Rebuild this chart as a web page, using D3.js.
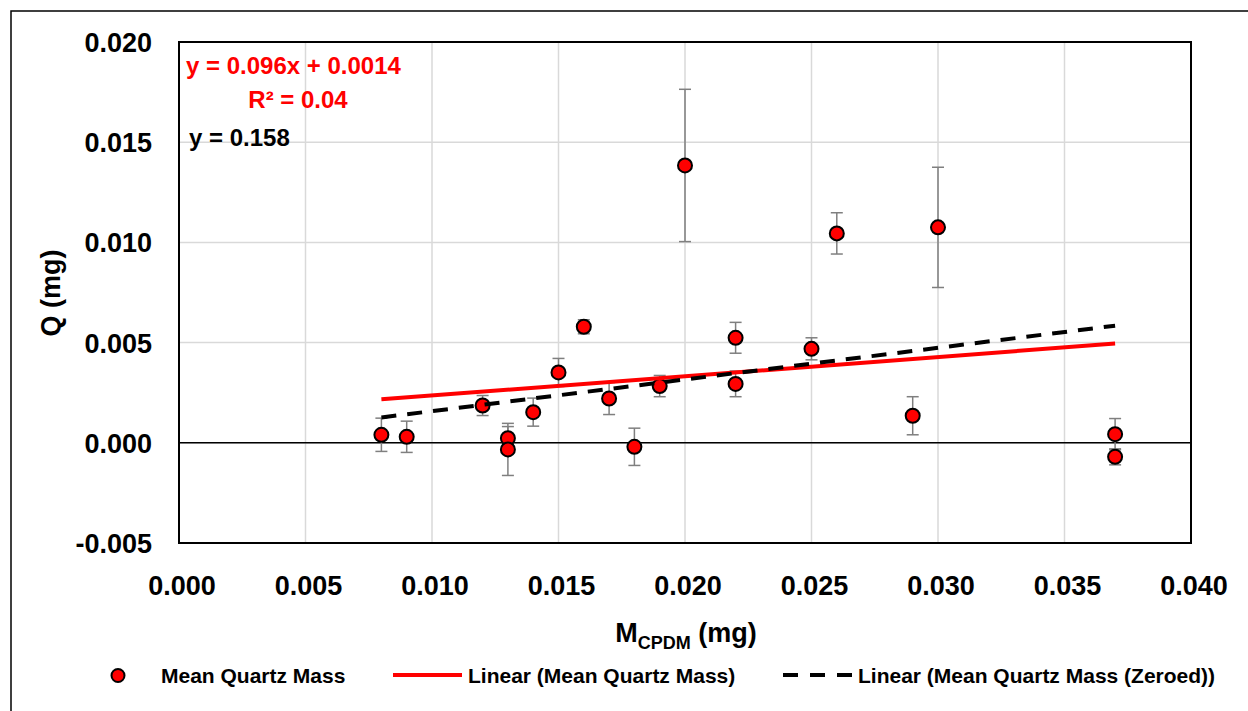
<html>
<head>
<meta charset="utf-8">
<script src="https://d3js.org/d3.v7.min.js"></script>
<style>
  body { margin: 0; padding: 0; background: #fff; }
  svg { display: block; font-family: "Liberation Sans", Arial, sans-serif; font-weight: bold; }
</style>
</head>
<body>
<script>
// data
var massX  = [0.008, 0.009, 0.012, 0.013, 0.013, 0.014, 0.015, 0.016, 0.017, 0.018,
              0.019, 0.020, 0.022, 0.022, 0.025, 0.026, 0.029, 0.030, 0.037, 0.037];
var quartzQ = [0.0004, 0.0003, 0.00186, 0.00023, -0.00033, 0.00153, 0.00351, 0.00579, 0.00221, -0.0002,
               0.00283, 0.01384, 0.00524, 0.00294, 0.00469, 0.01045, 0.00135, 0.01075, 0.00043, -0.0007];
var errQ   = [0.00083, 0.00078, 0.0005, 0.00058, 0.0013, 0.0007, 0.0007, 0.00035, 0.0008, 0.00093,
              0.00053, 0.0038, 0.00077, 0.00064, 0.00055, 0.00103, 0.00095, 0.003, 0.00078, 0.0004];

var fitNames     = ["Linear (Mean Quartz Mass)", "Linear (Mean Quartz Mass (Zeroed))"];
var fitSlope     = [0.096, 0.158];
var fitIntercept = [0.0014, 0];
var fitLabels    = [["y = 0.096x + 0.0014", "R\u00b2 = 0.04"], ["y = 0.158"]];

var xTicks = [0, 0.005, 0.010, 0.015, 0.020, 0.025, 0.030, 0.035, 0.040];
var yTicks = [-0.005, 0, 0.005, 0.010, 0.015, 0.020];

function fmt(d) { return d.toFixed(3); }

function chart() {
  var W = 1248, H = 711;
  var pl = 179, pr = 1191, pt = 42, pb = 543;

  var svg = d3.select("body").append("svg").attr("width", W).attr("height", H);

  // outer chart frame (runs off right / bottom edge)
  svg.append("rect").attr("x", 11).attr("y", 11).attr("width", W + 20).attr("height", H + 20)
    .attr("fill", "none").attr("stroke", "#000").attr("stroke-width", 1.5);

  var x = d3.scaleLinear().domain([0, 0.040]).range([pl, pr]);
  var y = d3.scaleLinear().domain([-0.005, 0.020]).range([pb, pt]);

  // gridlines
  svg.append("g").selectAll("line").data(xTicks).enter().append("line")
    .attr("x1", function(d) { return x(d); }).attr("x2", function(d) { return x(d); })
    .attr("y1", pt).attr("y2", pb)
    .attr("stroke", "#d9d9d9").attr("stroke-width", 1.5);
  svg.append("g").selectAll("line").data(yTicks).enter().append("line")
    .attr("x1", pl).attr("x2", pr)
    .attr("y1", function(d) { return y(d); }).attr("y2", function(d) { return y(d); })
    .attr("stroke", "#d9d9d9").attr("stroke-width", 1.5);

  // zero line
  svg.append("line").attr("x1", pl).attr("x2", pr).attr("y1", y(0)).attr("y2", y(0))
    .attr("stroke", "#000").attr("stroke-width", 1.5);

  // plot border
  svg.append("rect").attr("x", pl).attr("y", pt).attr("width", pr - pl).attr("height", pb - pt)
    .attr("fill", "none").attr("stroke", "#000").attr("stroke-width", 2);

  // tick labels
  svg.append("g").selectAll("text").data(xTicks).enter().append("text")
    .attr("x", function(d) { return x(d) + 3; }).attr("y", 595)
    .attr("text-anchor", "middle").attr("font-size", 27)
    .text(fmt);
  svg.append("g").selectAll("text").data(yTicks).enter().append("text")
    .attr("x", 152).attr("y", function(d) { return y(d) + 10; })
    .attr("text-anchor", "end").attr("font-size", 27)
    .text(fmt);

  // axis titles
  svg.append("text").attr("transform", "translate(60,293) rotate(-90)")
    .attr("text-anchor", "middle").attr("font-size", 27).text("Q (mg)");
  var xt = svg.append("text").attr("x", 686).attr("y", 642).attr("text-anchor", "middle").attr("font-size", 27);
  xt.append("tspan").text("M");
  xt.append("tspan").attr("font-size", 18).attr("dy", 7).text("CPDM");
  xt.append("tspan").attr("dy", -7).text(" (mg)");

  // error bars
  var eb = svg.append("g").attr("stroke", "#7f7f7f").attr("stroke-width", 1.5);
  massX.forEach(function(mx, i) {
    var cx = x(mx), y0 = y(quartzQ[i] - errQ[i]), y1 = y(quartzQ[i] + errQ[i]);
    eb.append("line").attr("x1", cx).attr("x2", cx).attr("y1", y0).attr("y2", y1);
    eb.append("line").attr("x1", cx - 6).attr("x2", cx + 6).attr("y1", y0).attr("y2", y0);
    eb.append("line").attr("x1", cx - 6).attr("x2", cx + 6).attr("y1", y1).attr("y2", y1);
  });

  // markers
  svg.append("g").selectAll("circle").data(massX).enter().append("circle")
    .attr("cx", function(d) { return x(d); })
    .attr("cy", function(d, i) { return y(quartzQ[i]); })
    .attr("r", 7).attr("fill", "#ff0000").attr("stroke", "#000").attr("stroke-width", 2);

  // trend lines
  var xMin = d3.min(massX), xMax = d3.max(massX);
  var fitColor = ["#ff0000", "#000"];
  var fitDash = [null, "15,11"];
  fitSlope.forEach(function(m, k) {
    svg.append("line")
      .attr("x1", x(xMin)).attr("y1", y(m * xMin + fitIntercept[k]))
      .attr("x2", x(xMax)).attr("y2", y(m * xMax + fitIntercept[k]))
      .attr("stroke", fitColor[k]).attr("stroke-width", 4)
      .attr("stroke-dasharray", fitDash[k]);
  });

  // equations
  svg.append("text").attr("x", 186).attr("y", 74).attr("font-size", 24).attr("fill", "#ff0000").text(fitLabels[0][0]);
  svg.append("text").attr("x", 298).attr("y", 108).attr("text-anchor", "middle").attr("font-size", 24).attr("fill", "#ff0000").text(fitLabels[0][1]);
  svg.append("text").attr("x", 189).attr("y", 146).attr("font-size", 24).attr("fill", "#000").text(fitLabels[1][0]);

  // legend
  var lg = svg.append("g").attr("font-size", 21);
  lg.append("circle").attr("cx", 118).attr("cy", 675.5).attr("r", 6.5).attr("fill", "#ff0000").attr("stroke", "#000").attr("stroke-width", 2);
  lg.append("text").attr("x", 161).attr("y", 682.5).text("Mean Quartz Mass");
  lg.append("line").attr("x1", 393).attr("x2", 462).attr("y1", 675).attr("y2", 675)
    .attr("stroke", fitColor[0]).attr("stroke-width", 4);
  lg.append("text").attr("x", 468).attr("y", 682.5).text(fitNames[0]);
  lg.append("line").attr("x1", 783).attr("x2", 852).attr("y1", 675).attr("y2", 675)
    .attr("stroke", fitColor[1]).attr("stroke-width", 4).attr("stroke-dasharray", "15,12");
  lg.append("text").attr("x", 858).attr("y", 682.5).text(fitNames[1]);
}

chart();
</script>
</body>
</html>
